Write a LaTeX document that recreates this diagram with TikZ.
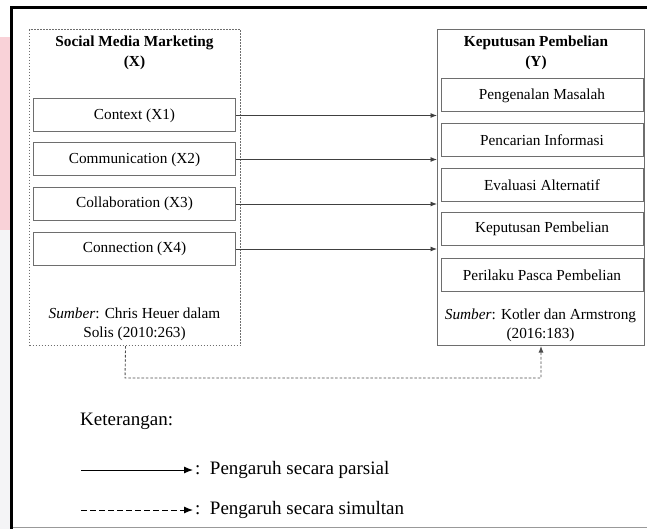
\documentclass[tikz,border=0pt]{standalone}
\usepackage{fontspec}
\setmainfont{Liberation Serif}
\usetikzlibrary{arrows.meta}
\definecolor{boxgray}{HTML}{6E6E6E}
\definecolor{wmpink}{HTML}{F9D2D8}
\definecolor{wmgray}{HTML}{F4F4F6}
\tikzset{
  boxfont/.style={font=\fontsize{15.3}{19}\selectfont},
  legfont/.style={font=\fontsize{19}{22}\selectfont},
  inbox/.style={draw=boxgray, line width=1pt, minimum width=202pt, minimum height=33pt, inner sep=0pt, boxfont},
  dotbox/.style={draw=boxgray, line width=1.1pt, dash pattern=on 1.6pt off 1.4pt, inner sep=0pt, anchor=north west},
  solbox/.style={draw=boxgray, line width=1pt, inner sep=0pt, anchor=north west},
  arr/.style={draw=black!75, line width=0.9pt, -{Latex[length=6.5pt,width=5pt]}},
  darr/.style={draw=black!70, line width=0.9pt, dash pattern=on 2.6pt off 1.8pt, -{Latex[length=6.5pt,width=5pt]}},
  legarr/.style={draw=black, line width=1pt, -{Latex[length=9pt,width=7pt]}},
  legdarr/.style={draw=black, line width=1pt, dash pattern=on 5.5pt off 3.5pt, -{Latex[length=9pt,width=7pt]}},
  ttl/.style={boxfont, align=center, inner sep=0pt}
}
\begin{document}
\begin{tikzpicture}[x=1pt,y=-1pt]
\useasboundingbox (0,0) rectangle (647,529);
% background watermark band and frame
\fill[wmpink] (0,37) rectangle (10,230);
\fill[wmgray] (0,230) rectangle (10,529);
\draw[black, line width=3pt] (11.5,529) -- (11.5,7.5) -- (647,7.5);
\draw[black!40, line width=1.5pt] (13,527.5) -- (647,527.5);
% left block
\node[dotbox, minimum width=211pt, minimum height=316pt] (X) at (29,29) {};
\node[ttl, font=\fontsize{15.3}{20}\selectfont\bfseries] (xt) at (134.5,53) {Social Media Marketing\\(X)};
\node[inbox] (x1) at (134.5,115.5) {Context (X1)};
\node[inbox] (x2) at (134.5,159.5) {Communication (X2)};
\node[inbox] (x3) at (134.5,204) {Collaboration (X3)};
\node[inbox] (x4) at (134.5,249) {Connection (X4)};
\node[ttl] (xs) at (134.5,324) {\textit{Sumber}: Chris Heuer dalam\\Solis (2010:263)};
% right block
\node[solbox, minimum width=207pt, minimum height=316pt] (Y) at (437,29) {};
\node[ttl, font=\fontsize{15.3}{20}\selectfont\bfseries] (yt) at (536,53) {Keputusan Pembelian\\(Y)};
\node[inbox] (y1) at (542,95.5) {Pengenalan Masalah};
\node[inbox] (y2) at (542,140.5) {Pencarian Informasi};
\node[inbox] (y3) at (542,185.5) {Evaluasi Alternatif};
\node[inbox] (y4) at (542,229) {Keputusan Pembelian};
\node[inbox] (y5) at (542,275) {Perilaku Pasca Pembelian};
\node[ttl] (ys) at (540.5,325) {\textit{Sumber}: Kotler dan Armstrong\\(2016:183)};
% partial arrows
\draw[arr] (x1.east) -- (Y.west |- x1.east);
\draw[arr] (x2.east) -- (Y.west |- x2.east);
\draw[arr] (x3.east) -- (Y.west |- x3.east);
\draw[arr] (x4.east) -- (Y.west |- x4.east);
% simultaneous arrow
\coordinate (d1) at (125,378);
\draw[darr] ([xshift=-9.5pt]X.south) -- (d1) -- (d1 -| Y.south) -- (Y.south);
% legend
\node[legfont, anchor=west, inner sep=0pt] (ket) at (80,421) {Keterangan:};
\coordinate (l1a) at (81,470);
\coordinate (l1b) at (193,470);
\coordinate (l2a) at (81,510);
\coordinate (l2b) at (193,510);
\draw[legarr] (l1a) -- (l1b);
\draw[legdarr] (l2a) -- (l2b);
\node[legfont, anchor=west, inner sep=0pt] (lt1) at (195,470) {:\, Pengaruh secara parsial};
\node[legfont, anchor=west, inner sep=0pt] (lt2) at (195,510) {:\, Pengaruh secara simultan};
\end{tikzpicture}
\end{document}
